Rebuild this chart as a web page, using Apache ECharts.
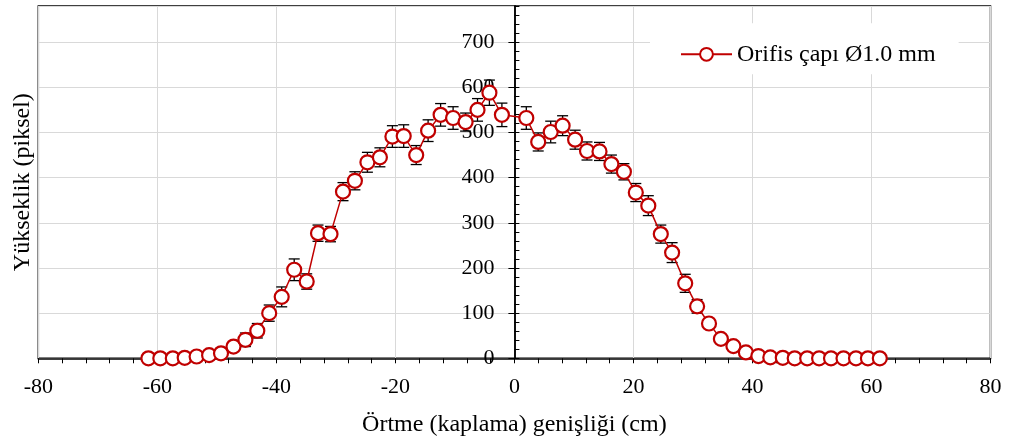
<!DOCTYPE html>
<html>
<head>
<meta charset="utf-8">
<script src="https://cdn.jsdelivr.net/npm/echarts@6/dist/echarts.min.js"></script>
<style>
html,body{margin:0;padding:0;background:#fff;}
#chart{width:1010px;height:440px;}
</style>
</head>
<body>
<div id="chart"></div>
<script>
// Örtme (kaplama) genişliği, cm
var widthCm = [
  -61.5, -59.5, -57.4, -55.4, -53.4, -51.3, -49.3, -47.2, -45.2, -43.2,
  -41.2, -39.1, -37.0, -34.9, -33.0, -30.9, -28.8, -26.8, -24.7, -22.6,
  -20.5, -18.6, -16.5, -14.5, -12.4, -10.3, -8.2, -6.2, -4.2, -2.1,
  2.0, 4.0, 6.1, 8.1, 10.2, 12.2, 14.3, 16.3, 18.4, 20.4,
  22.5, 24.6, 26.5, 28.7, 30.7, 32.7, 34.7, 36.8, 38.9, 41.0,
  43.0, 45.1, 47.1, 49.2, 51.2, 53.2, 55.3, 57.4, 59.4, 61.4
];
// Yükseklik, piksel
var heightPx = [
  0, 0, 0, 1, 4, 7, 11, 26, 41, 61,
  100, 136, 196, 170, 277, 275, 369, 393, 434, 445,
  491, 492, 450, 504, 539, 532, 523, 550, 588, 539,
  532, 479, 501, 515, 484, 459, 458, 430, 413, 367,
  338, 275, 234, 166, 115, 77, 43, 27, 13, 5,
  2, 1, 0, 0, 0, 0, 0, 0, 0, 0
];
// Hata (±)
var errorPx = [
  0, 0, 0, 0, 1, 2, 3, 6, 15, 16,
  18, 22, 24, 17, 18, 17, 20, 20, 22, 21,
  24, 25, 21, 24, 25, 25, 20, 25, 28, 26,
  25, 20, 24, 22, 21, 20, 20, 20, 18, 20,
  22, 20, 22, 20, 15, 6, 4, 2, 1, 1,
  0, 0, 0, 0, 0, 0, 0, 0, 0, 0
];
var xTicks = {min: -80, max: 80, interval: 20};
var yTicks = {min: 0, max: 780, interval: 100, minorInterval: 20};
var seriesName = 'Orifis çapı Ø1.0 mm';
var xName = 'Örtme (kaplama) genişliği (cm)';
var yName = 'Yükseklik (piksel)';

var FONT = 'Liberation Serif';
var GRID_LEFT = 38.3;
var lineData = widthCm.map(function (x, i) { return [x, heightPx[i]]; });
var errData = widthCm.map(function (x, i) { return [x, heightPx[i] - errorPx[i], heightPx[i] + errorPx[i]]; });

var chart = echarts.init(document.getElementById('chart'), null, {renderer: 'canvas'});
chart.setOption({
  animation: false,
  backgroundColor: '#fff',
  textStyle: {fontFamily: FONT},
  grid: {
    left: GRID_LEFT, right: 19.5, top: 6, bottom: 81.7,
    containLabel: false, outerBoundsMode: 'none',
    show: true, borderColor: '#000', borderWidth: 1.5
  },
  legend: {
    data: [seriesName],
    left: 650, top: 23.3,
    padding: [19, 23, 8, 30],
    backgroundColor: '#fff',
    itemWidth: 51, itemHeight: 16,
    textStyle: {fontFamily: FONT, fontSize: 24, color: '#000'},
    selectedMode: false
  },
  xAxis: {
    type: 'value',
    min: xTicks.min, max: xTicks.max, interval: xTicks.interval,
    position: 'bottom',
    name: xName, nameLocation: 'middle', nameGap: 54,
    nameTextStyle: {fontFamily: FONT, fontSize: 24, color: '#000'},
    axisLine: {show: true, onZero: false, lineStyle: {color: '#000', width: 1.5}},
    axisTick: {show: true, inside: false, length: 5, lineStyle: {color: '#000', width: 1}},
    minorTick: {show: true, splitNumber: 5, length: 5, lineStyle: {color: '#000', width: 1}},
    axisLabel: {fontFamily: FONT, fontSize: 22, color: '#000', margin: 18},
    splitLine: {show: true, lineStyle: {color: '#d9d9d9', width: 1}},
    minorSplitLine: {show: false}
  },
  yAxis: [
    {
      type: 'value',
      min: yTicks.min, max: yTicks.max, interval: yTicks.interval,
      position: 'left', offset: 0,
      axisLine: {show: true, onZero: false, lineStyle: {color: '#000', width: 1.5}},
      axisTick: {show: true, inside: false, length: 6, lineStyle: {color: '#000', width: 1}},
      axisLabel: {fontFamily: FONT, fontSize: 22, color: '#000', margin: 20, showMaxLabel: false},
      splitLine: {show: true, lineStyle: {color: '#d9d9d9', width: 1}}
    },
    {
      type: 'value',
      min: yTicks.min, max: yTicks.max, interval: yTicks.minorInterval,
      position: 'left', offset: 0,
      axisLine: {show: true, onZero: false, lineStyle: {color: '#000', width: 1.5}},
      axisTick: {show: true, inside: true, length: 5, lineStyle: {color: '#000', width: 1}},
      axisLabel: {show: false},
      splitLine: {show: false}
    },
    {
      type: 'value',
      min: yTicks.min, max: yTicks.max, interval: yTicks.interval,
      position: 'left',
      name: yName, nameLocation: 'middle', nameGap: 4,
      nameTextStyle: {fontFamily: FONT, fontSize: 24, color: '#000'},
      axisLine: {show: false, onZero: false},
      axisTick: {show: false},
      axisLabel: {show: false},
      splitLine: {show: false}
    }
  ],
  series: [
    {
      type: 'custom',
      name: 'err',
      z: 1,
      silent: true,
      data: errData,
      encode: {x: 0, y: [1, 2]},
      renderItem: function (params, api) {
        var x = api.value(0);
        var lo = api.coord([x, api.value(1)]);
        var hi = api.coord([x, api.value(2)]);
        var w = 5.5;
        var st = {stroke: '#000', lineWidth: 1.3};
        return {
          type: 'group',
          children: [
            {type: 'line', shape: {x1: hi[0], y1: hi[1], x2: lo[0], y2: lo[1]}, style: st},
            {type: 'line', shape: {x1: hi[0] - w, y1: hi[1], x2: hi[0] + w, y2: hi[1]}, style: st},
            {type: 'line', shape: {x1: lo[0] - w, y1: lo[1], x2: lo[0] + w, y2: lo[1]}, style: st}
          ]
        };
      }
    },
    {
      type: 'line',
      name: seriesName,
      z: 3,
      data: lineData,
      symbol: 'circle',
      symbolSize: 14,
      showAllSymbol: true,
      itemStyle: {color: '#fff', borderColor: '#c00000', borderWidth: 2.2},
      lineStyle: {color: '#c00000', width: 1.5},
      emphasis: {disabled: true}
    }
  ]
});

// Move the value axis onto x = 0 (labels included), using the x scale of the chart
var zeroX = chart.convertToPixel({xAxisIndex: 0}, 0);
var shift = -(zeroX - GRID_LEFT);
chart.setOption({yAxis: [{offset: shift}, {offset: shift}, {}]});
</script>
</body>
</html>
